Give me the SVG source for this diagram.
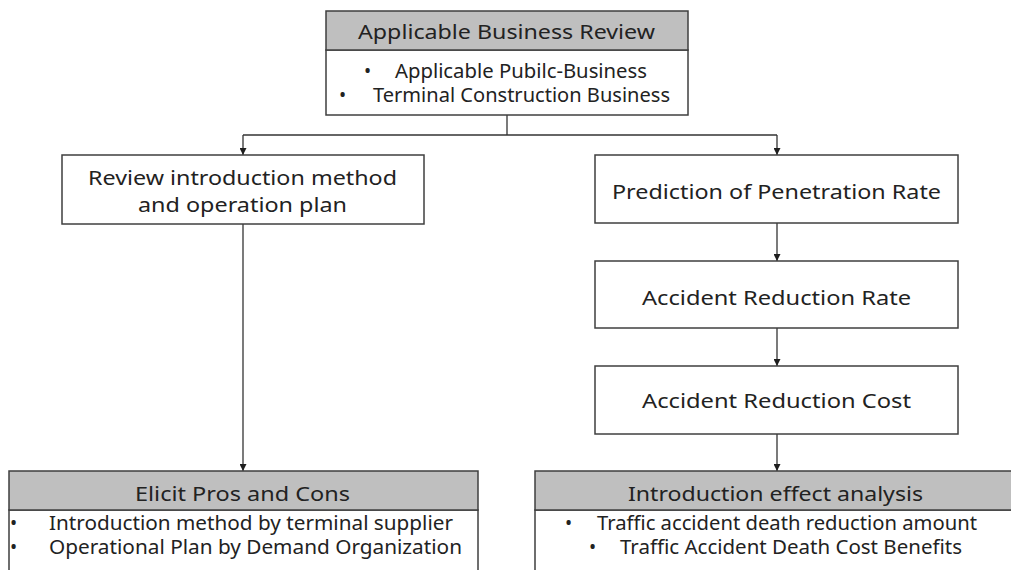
<svg xmlns="http://www.w3.org/2000/svg" width="1011" height="570" viewBox="0 0 1011 570">
<style>
.box{fill:#ffffff;stroke:#3f3f3f;stroke-width:1.5}
.hdr{fill:#bfbfbf;stroke:#3f3f3f;stroke-width:1.5}
.t{font-family:"Noto Sans","Open Sans","Liberation Sans",sans-serif;font-size:20px;fill:#222222}
.s{font-size:19px}
.ln{stroke:#333333;stroke-width:1.3;fill:none}
</style>
<defs>
<marker id="ah" viewBox="0 0 10 10" refX="10" refY="5" markerWidth="7" markerHeight="7" markerUnits="userSpaceOnUse" orient="auto">
<path d="M0,0 L10,5 L0,10 z" fill="#1e1e1e"/>
</marker>
</defs>
<rect width="1011" height="570" fill="#ffffff"/>
<g id="connectors">
<line class="ln" x1="507" y1="115" x2="507" y2="135"/>
<line class="ln" x1="243" y1="135" x2="777" y2="135"/>
<line class="ln" x1="243" y1="135" x2="243" y2="155" marker-end="url(#ah)"/>
<line class="ln" x1="777" y1="135" x2="777" y2="155" marker-end="url(#ah)"/>
<line class="ln" x1="243" y1="224" x2="243" y2="471" marker-end="url(#ah)"/>
<line class="ln" x1="777" y1="223" x2="777" y2="261" marker-end="url(#ah)"/>
<line class="ln" x1="777" y1="328" x2="777" y2="366" marker-end="url(#ah)"/>
<line class="ln" x1="777" y1="434" x2="777" y2="471" marker-end="url(#ah)"/>
</g>
<g id="review">
<rect class="box" x="326" y="50" width="362" height="65"/>
<rect class="hdr" x="326" y="11" width="362" height="39"/>
<text class="t" x="358" y="39" textLength="297" lengthAdjust="spacingAndGlyphs">Applicable Business Review</text>
<text class="t s" x="364" y="78">•</text>
<text class="t s" x="395" y="78" textLength="252" lengthAdjust="spacingAndGlyphs">Applicable Pubilc-Business</text>
<text class="t s" x="339" y="102">•</text>
<text class="t s" x="373" y="102" textLength="297" lengthAdjust="spacingAndGlyphs">Terminal Construction Business</text>
</g>
<g id="intro-method">
<rect class="box" x="62" y="155" width="362" height="69"/>
<text class="t" x="88" y="185" textLength="309" lengthAdjust="spacingAndGlyphs">Review introduction method</text>
<text class="t" x="138" y="212" textLength="209" lengthAdjust="spacingAndGlyphs">and operation plan</text>
</g>
<g id="penetration">
<rect class="box" x="595" y="155" width="363" height="68"/>
<text class="t" x="612" y="199" textLength="329" lengthAdjust="spacingAndGlyphs">Prediction of Penetration Rate</text>
</g>
<g id="reduction-rate">
<rect class="box" x="595" y="261" width="363" height="67"/>
<text class="t" x="642" y="305" textLength="269" lengthAdjust="spacingAndGlyphs">Accident Reduction Rate</text>
</g>
<g id="reduction-cost">
<rect class="box" x="595" y="366" width="363" height="68"/>
<text class="t" x="642" y="408" textLength="269" lengthAdjust="spacingAndGlyphs">Accident Reduction Cost</text>
</g>
<g id="pros-cons">
<rect class="box" x="9" y="510" width="469" height="80"/>
<rect class="hdr" x="9" y="471" width="469" height="39"/>
<text class="t" x="135" y="501" textLength="215" lengthAdjust="spacingAndGlyphs">Elicit Pros and Cons</text>
<text class="t s" x="10" y="530">•</text>
<text class="t s" x="49" y="530" textLength="404" lengthAdjust="spacingAndGlyphs">Introduction method by terminal supplier</text>
<text class="t s" x="10" y="554">•</text>
<text class="t s" x="49" y="554" textLength="413" lengthAdjust="spacingAndGlyphs">Operational Plan by Demand Organization</text>
</g>
<g id="effect">
<rect class="box" x="535" y="510" width="490" height="80"/>
<rect class="hdr" x="535" y="471" width="490" height="39"/>
<text class="t" x="628" y="501" textLength="295" lengthAdjust="spacingAndGlyphs">Introduction effect analysis</text>
<text class="t s" x="565" y="530">•</text>
<text class="t s" x="597" y="530" textLength="380" lengthAdjust="spacingAndGlyphs">Traffic accident death reduction amount</text>
<text class="t s" x="589" y="554">•</text>
<text class="t s" x="620" y="554" textLength="342" lengthAdjust="spacingAndGlyphs">Traffic Accident Death Cost Benefits</text>
</g>
</svg>
